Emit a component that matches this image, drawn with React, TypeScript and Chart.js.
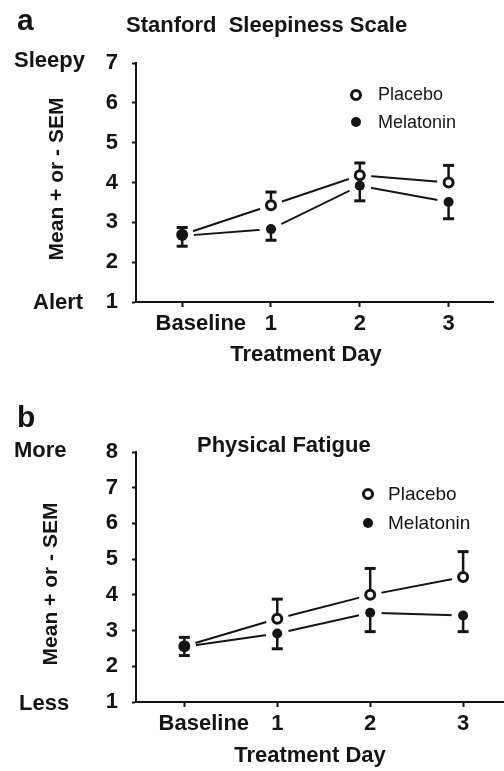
import React, { useEffect, useRef } from "react";
import { Chart, registerables } from "chart.js";

Chart.register(...registerables);

// ---------- data ----------
const CATEGORIES = ["Baseline", "1", "2", "3"];
const DAY_INDEX = [0, 1, 2, 3];

// (a) Stanford Sleepiness Scale
const SSS_PLACEBO = [2.69, 3.43, 4.18, 4.0];
const SSS_PLACEBO_SEM = [0.18, 0.33, 0.31, 0.43];
const SSS_MELATONIN = [2.66, 2.83, 3.92, 3.51];
const SSS_MELATONIN_SEM = [0.26, 0.28, 0.38, 0.42];
const SSS_Y_TICKS = [1, 2, 3, 4, 5, 6, 7];

// (b) Physical Fatigue
const PF_PLACEBO = [2.56, 3.33, 4.0, 4.5];
const PF_PLACEBO_SEM = [0.25, 0.55, 0.74, 0.71];
const PF_MELATONIN = [2.55, 2.92, 3.5, 3.42];
const PF_MELATONIN_SEM = [0.25, 0.43, 0.53, 0.45];
const PF_Y_TICKS = [1, 2, 3, 4, 5, 6, 7, 8];

// ---------- style ----------
const INK = "#141414";
const FONT = '"Liberation Sans", Arial, Helvetica, sans-serif';
const BASELINE_LABEL_SHIFT = 0.21; // the "Baseline" label sits right of its tick
const HALO = 11.5;

Chart.defaults.font.family = FONT;

interface Panel {
  placebo: number[];
  placeboSem: number[];
  melatonin: number[];
  melatoninSem: number[];
  yTicks: number[];
  xMin: number;
  xMax: number;
  height: number;
  areaTop: number;
  areaBottom: number;
  areaRight: number;
}

function buildChart(canvas: HTMLCanvasElement, p: Panel) {
  const pts = (vals: number[]) => vals.map((v, i) => ({ x: DAY_INDEX[i], y: v }));
  const xTickValues = [0, BASELINE_LABEL_SHIFT, ...DAY_INDEX.slice(1)];
  const xTickLabels = ["", CATEGORIES[0], ...CATEGORIES.slice(1)];

  const errorBars = {
    id: "errorBars",
    afterDatasetsDraw(chart: any) {
      const { ctx, scales } = chart;
      const xs = scales.x;
      const ys = scales.y;
      ctx.save();
      ctx.strokeStyle = INK;
      ctx.lineCap = "butt";
      const draw = (vals: number[], sems: number[], dir: number, off: number) => {
        vals.forEach((v, i) => {
          const px = xs.getPixelForValue(DAY_INDEX[i]);
          const py0 = ys.getPixelForValue(v);
          const py1 = ys.getPixelForValue(v + dir * sems[i]);
          ctx.lineWidth = 2.5;
          ctx.beginPath();
          ctx.moveTo(px, py0 - dir * off);
          ctx.lineTo(px, py1);
          ctx.stroke();
          ctx.lineWidth = 3;
          ctx.beginPath();
          ctx.moveTo(px - 5.5, py1);
          ctx.lineTo(px + 5.5, py1);
          ctx.stroke();
        });
      };
      draw(p.placebo, p.placeboSem, 1, 5.5);
      draw(p.melatonin, p.melatoninSem, -1, 4.5);
      ctx.restore();
    },
  };

  return new Chart(canvas, {
    type: "scatter",
    data: {
      datasets: [
        { label: "Placebo", data: pts(p.placebo), showLine: true, borderColor: INK, borderWidth: 2, pointRadius: 0, order: 5 },
        { label: "Melatonin", data: pts(p.melatonin), showLine: true, borderColor: INK, borderWidth: 2, pointRadius: 0, order: 4 },
        { label: "h1", data: pts(p.placebo), showLine: false, pointRadius: HALO, pointBackgroundColor: "#ffffff", pointBorderWidth: 0, pointBorderColor: "#ffffff", order: 3 },
        { label: "h2", data: pts(p.melatonin), showLine: false, pointRadius: HALO, pointBackgroundColor: "#ffffff", pointBorderWidth: 0, pointBorderColor: "#ffffff", order: 2 },
        { label: "Placebo marker", data: pts(p.placebo), showLine: false, pointRadius: 4.5, pointBorderWidth: 3, pointBorderColor: INK, pointBackgroundColor: "#ffffff", order: 1 },
        { label: "Melatonin marker", data: pts(p.melatonin), showLine: false, pointRadius: 5, pointBorderWidth: 0, pointBorderColor: INK, pointBackgroundColor: INK, order: 0 },
      ],
    },
    options: {
      animation: false,
      responsive: false,
      devicePixelRatio: 1,
      events: [],
      layout: { autoPadding: false, padding: { top: p.areaTop, right: p.areaRight, bottom: 0, left: 0 } },
      plugins: { legend: { display: false }, tooltip: { enabled: false }, title: { display: false } },
      scales: {
        x: {
          type: "linear",
          min: p.xMin,
          max: p.xMax,
          afterBuildTicks: (s: any) => {
            s.ticks = xTickValues.map((v) => ({ value: v }));
          },
          afterFit: (s: any) => {
            s.height = p.height - p.areaBottom;
            s.paddingLeft = 0;
            s.paddingRight = 0;
          },
          ticks: {
            autoSkip: false,
            maxRotation: 0,
            minRotation: 0,
            padding: 4,
            color: INK,
            font: { size: 22, weight: "bold", family: FONT },
            callback: (_v: any, i: number) => xTickLabels[i],
          },
          grid: {
            display: true,
            drawOnChartArea: false,
            drawTicks: true,
            tickLength: 5,
            tickWidth: 2,
            color: INK,
            tickColor: (c: any) => (c.tick && c.tick.value === BASELINE_LABEL_SHIFT ? "rgba(0,0,0,0)" : INK),
          },
          border: { display: true, color: INK, width: 2 },
        },
        y: {
          type: "linear",
          min: p.yTicks[0],
          max: p.yTicks[p.yTicks.length - 1],
          afterBuildTicks: (s: any) => {
            s.ticks = p.yTicks.map((v) => ({ value: v }));
          },
          afterFit: (s: any) => {
            s.width = 136;
            s.paddingTop = 0;
            s.paddingBottom = 0;
          },
          ticks: {
            padding: 14,
            color: INK,
            font: { size: 22, weight: "bold", family: FONT },
            callback: (v: any) => String(v),
          },
          grid: {
            display: true,
            drawOnChartArea: false,
            drawTicks: true,
            tickLength: 4,
            tickWidth: 2,
            color: INK,
            tickColor: INK,
          },
          border: { display: true, color: INK, width: 2 },
        },
      },
    },
    plugins: [errorBars],
  } as any);
}

const PANEL_A: Panel = {
  placebo: SSS_PLACEBO,
  placeboSem: SSS_PLACEBO_SEM,
  melatonin: SSS_MELATONIN,
  melatoninSem: SSS_MELATONIN_SEM,
  yTicks: SSS_Y_TICKS,
  xMin: -0.52,
  xMax: 3.5,
  height: 385,
  areaTop: 63,
  areaBottom: 302,
  areaRight: 11,
};

const PANEL_B: Panel = {
  placebo: PF_PLACEBO,
  placeboSem: PF_PLACEBO_SEM,
  melatonin: PF_MELATONIN,
  melatoninSem: PF_MELATONIN_SEM,
  yTicks: PF_Y_TICKS,
  xMin: -0.52,
  xMax: 3.44,
  height: 386,
  areaTop: 67,
  areaBottom: 317,
  areaRight: 0,
};

function ChartPanel({ panel, top }: { panel: Panel; top: number }) {
  const ref = useRef<HTMLCanvasElement | null>(null);
  useEffect(() => {
    if (!ref.current) return;
    const c = buildChart(ref.current, panel);
    return () => c.destroy();
  }, [panel]);
  return (
    <canvas
      ref={ref}
      width={504}
      height={panel.height}
      style={{ position: "absolute", left: 0, top, width: 504, height: panel.height, display: "block" }}
    />
  );
}

function Txt({ x, baseline, size, bold = true, center = false, children }: any) {
  return (
    <div
      style={{
        position: "absolute",
        left: x,
        top: baseline - 0.8465 * size,
        fontSize: size,
        lineHeight: `${size}px`,
        fontWeight: bold ? 700 : 400,
        whiteSpace: "pre",
        color: INK,
        fontFamily: FONT,
        transform: center ? "translateX(-50%)" : undefined,
      }}
    >
      {children}
    </div>
  );
}

function VTxt({ cx, cy, size, children }: any) {
  return (
    <div
      style={{
        position: "absolute",
        left: cx,
        top: cy,
        fontSize: size,
        lineHeight: `${size}px`,
        fontWeight: 700,
        whiteSpace: "pre",
        color: INK,
        fontFamily: FONT,
        transform: "translate(-50%, -50%) rotate(-90deg)",
      }}
    >
      {children}
    </div>
  );
}

function Marker({ cx, cy, open }: any) {
  const d = open ? 12 : 10;
  return (
    <div
      style={{
        position: "absolute",
        left: cx - d / 2,
        top: cy - d / 2,
        width: d,
        height: d,
        boxSizing: "border-box",
        borderRadius: "50%",
        border: open ? `3px solid ${INK}` : "none",
        background: open ? "#ffffff" : INK,
      }}
    />
  );
}

export default function App() {
  return (
    <div
      style={{
        position: "absolute",
        left: 0,
        top: 0,
        width: 504,
        height: 771,
        background: "#ffffff",
        overflow: "hidden",
        fontFamily: FONT,
      }}
    >
      <ChartPanel panel={PANEL_A} top={0} />
      <ChartPanel panel={PANEL_B} top={385} />

      {/* panel a texts */}
      <Txt x={17} baseline={30} size={30}>a</Txt>
      <Txt x={126} baseline={33} size={22}>Stanford  Sleepiness Scale</Txt>
      <Txt x={14} baseline={68} size={22}>Sleepy</Txt>
      <Txt x={33} baseline={310} size={22}>Alert</Txt>
      <VTxt cx={55} cy={178.5} size={21}>Mean + or - SEM</VTxt>
      <Txt x={306} baseline={362} size={22} center>Treatment Day</Txt>
      <Marker cx={356} cy={95} open />
      <Txt x={378} baseline={100} size={18} bold={false}>Placebo</Txt>
      <Marker cx={356} cy={122} />
      <Txt x={378} baseline={128} size={18} bold={false}>Melatonin</Txt>

      {/* panel b texts */}
      <Txt x={17} baseline={427} size={30}>b</Txt>
      <Txt x={14} baseline={458} size={22}>More</Txt>
      <Txt x={197} baseline={453} size={22}>Physical Fatigue</Txt>
      <Txt x={19} baseline={711} size={22}>Less</Txt>
      <VTxt cx={48.5} cy={583.5} size={21}>Mean + or - SEM</VTxt>
      <Txt x={310} baseline={763} size={22} center>Treatment Day</Txt>
      <Marker cx={367.5} cy={493.5} open />
      <Txt x={388} baseline={500} size={19} bold={false}>Placebo</Txt>
      <Marker cx={367.5} cy={522.5} />
      <Txt x={388} baseline={529} size={19} bold={false}>Melatonin</Txt>
    </div>
  );
}
